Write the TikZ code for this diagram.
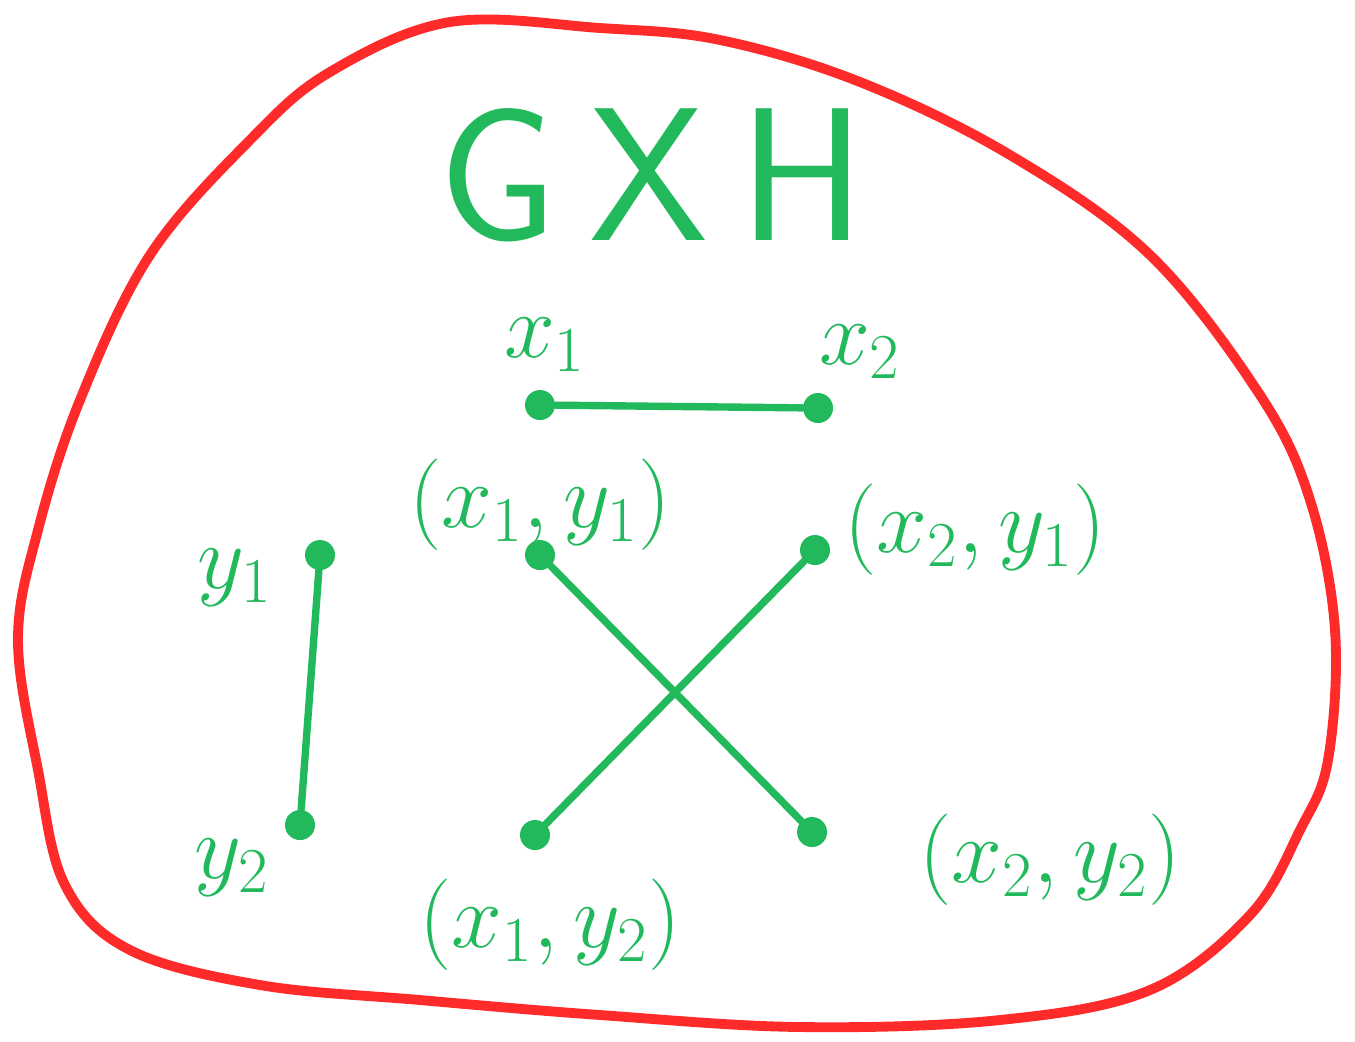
\RequirePackage{fix-cm}
\documentclass[tikz,border=0pt]{standalone}
\usepackage{tikz}
\usetikzlibrary{positioning}
\definecolor{penred}{HTML}{FF2A2A}
\definecolor{pengreen}{HTML}{22B95C}
\tikzset{
  vtx/.style={circle, fill=pengreen, inner sep=0pt, minimum size=0.3cm},
  lbl/.style={text=pengreen, font=\fontsize{26}{30}\selectfont},
  edge/.style={draw=pengreen, line width=2.1pt, line cap=round},
  blob/.style={draw=penred, line width=2.8pt}}
\begin{document}
\begin{tikzpicture}[x=0.01cm,y=-0.01cm]
  \useasboundingbox (0,0) rectangle (1355,1041);
  % outer red loop
  \draw[blob] plot[smooth cycle, tension=0.6] coordinates {
    (330,72) (450,22) (600,28) (720,40) (860,82) (1010,155) (1150,255)
    (1260,395) (1310,500) (1335,630) (1328,760) (1300,830) (1250,915)
    (1150,990) (1000,1020) (800,1027) (600,1015) (420,1000) (260,985)
    (130,950) (65,885) (38,770) (18,640) (38,530) (80,400) (150,255)
    (250,140)};
  % title
  \node[lbl, font=\fontsize{54}{60}\sffamily\selectfont] (title) at (652,175) {G\,X\,H};
  % factor G
  \node[vtx] (x1) at (540,405) {};
  \node[vtx] (x2) at (818,408) {};
  \node[lbl] (lx1) at (545,345) {$x_1$};
  \node[lbl] (lx2) at (860,352) {$x_2$};
  \draw[edge] (x1) -- (x2);
  % factor H
  \node[vtx] (y1) at (320,555) {};
  \node[vtx] (y2) at (300,825) {};
  \node[lbl] (ly1) at (235,578) {$y_1$};
  \node[lbl] (ly2) at (232,868) {$y_2$};
  \draw[edge] (y1) -- (y2);
  % product
  \node[vtx] (p11) at (540,555) {};
  \node[vtx] (p21) at (815,550) {};
  \node[vtx] (p12) at (535,835) {};
  \node[vtx] (p22) at (812,832) {};
  \node[lbl] (lp11) at (540,505) {$(x_1,y_1)$};
  \node[lbl] (lp21) at (975,530) {$(x_2,y_1)$};
  \node[lbl] (lp12) at (550,925) {$(x_1,y_2)$};
  \node[lbl] (lp22) at (1050,860) {$(x_2,y_2)$};
  \draw[edge] (p11) -- (p22);
  \draw[edge] (p21) -- (p12);
\end{tikzpicture}
\end{document}
